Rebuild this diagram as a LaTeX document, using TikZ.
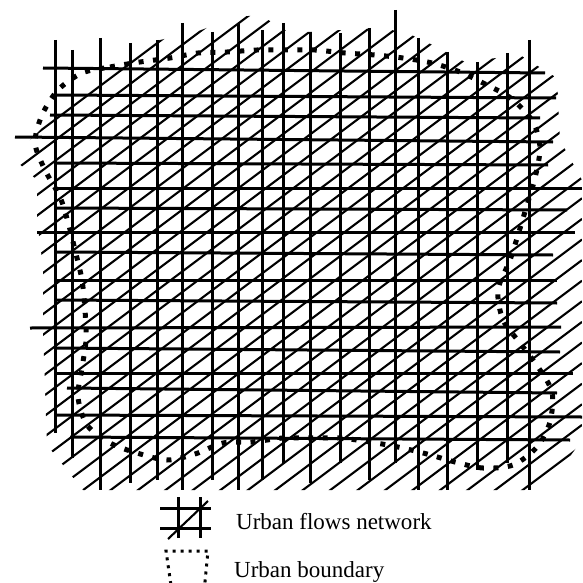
\documentclass[tikz,border=0pt]{standalone}
\usepackage{fontspec}
\setmainfont{Liberation Serif}
\begin{document}
\begin{tikzpicture}[x=1pt,y=-1pt,
  gridline/.style={line width=3pt,black},
  hatchline/.style={line width=2.1pt,black},
  bounddots/.style={line width=5pt,black,dash pattern=on 5pt off 9.5pt,line cap=butt},
  smalldots/.style={line width=3pt,black,dash pattern=on 3pt off 5pt,line cap=butt},
  legtext/.style={font=\fontsize{23}{26}\selectfont,inner sep=0pt,anchor=base west}]
\useasboundingbox (0,0) rectangle (582,583);
% hatching
\begin{scope}
\clip (15,160) -- (30,140) -- (60,110) -- (107,65) -- (133,45) -- (160,40) -- (193,33) -- (237,17) -- (260,15) -- (290,33) -- (377,28) -- (405,32) -- (437,47) -- (465,62) -- (520,55) -- (557,78) -- (560,140) -- (582,180) -- (582,440) -- (560,470) -- (530,490) -- (83,490) -- (47,445) -- (43,330) -- (43,267) -- (37,220) -- (37,180) -- cycle;
\foreach \b in {16.8,37.4,...,960} \draw[hatchline] (0,\b) -- (582,\b-436.5);
\end{scope}
% horizontal lines
\foreach \xa/\ya/\xb/\yb in {43/68/545/73, 55/95/556/98, 50/115/540/118, 15/137/553/142, 55/163/548/165, 55/188/582/188, 55/208/567/210, 37/232/575/232, 55/252/553/255, 55/280/557/280, 55/300/557/303, 30/328/561/327, 55/348/560/352, 55/373/573/373, 67/388/557/393, 55/415/582/417, 70/437/570/440}
  \draw[gridline] (\xa,\ya) -- (\xb,\yb);
% vertical lines
\foreach \x/\ya/\yb in {55/40/433, 72/50/458, 100/38/490, 130/43/483, 157/40/480, 182/23/490, 212/32/480, 238/23/490, 262/30/480, 283/23/463, 310/32/483, 340/33/463, 369/28/480, 395/10/463, 418/38/490, 447/52/490, 477/62/470, 507/53/463, 529/40/490}
  \draw[gridline] (\x,\ya) -- (\x,\yb);
% urban boundary
\draw[bounddots] plot[smooth cycle] coordinates {(82,73) (110,67) (140,62) (170,58) (198,53) (227,52) (257,50) (287,50) (315,50) (345,53) (375,55) (403,58) (432,63) (460,72) (487,85) (512,99) (533,122) (540,148) (535,178) (527,205) (518,235) (510,260) (498,290) (503,320) (520,343) (538,367) (552,392) (550,422) (537,447) (513,465) (483,468) (455,462) (427,454) (398,447) (370,442) (340,438) (310,438) (283,438) (252,442) (223,443) (195,454) (167,460) (137,453) (110,443) (87,425) (78,397) (82,368) (86,340) (85,310) (82,280) (75,250) (68,222) (60,197) (45,170) (35,143) (42,115) (58,90)};
% legend: network icon
\coordinate (n1a) at (160,508); \coordinate (n1b) at (211,508);
\coordinate (n2a) at (160,528); \coordinate (n2b) at (211,528);
\coordinate (n3a) at (178,497); \coordinate (n3b) at (178,538);
\coordinate (n4a) at (200,497); \coordinate (n4b) at (200,538);
\coordinate (n5a) at (168,539); \coordinate (n5b) at (208,501);
\draw[gridline] (n1a) -- (n1b);
\draw[gridline] (n2a) -- (n2b);
\draw[gridline] (n3a) -- (n3b);
\draw[gridline] (n4a) -- (n4b);
\draw[hatchline] (n5a) -- (n5b);
\node[legtext] (lnet) at (236,529) {Urban flows network};
% legend: boundary icon
\draw[smalldots] (172,592) -- (166,551) -- (208,551) -- (204,592);
\node[legtext] (lbound) at (234,577) {Urban boundary};
\end{tikzpicture}
\end{document}
